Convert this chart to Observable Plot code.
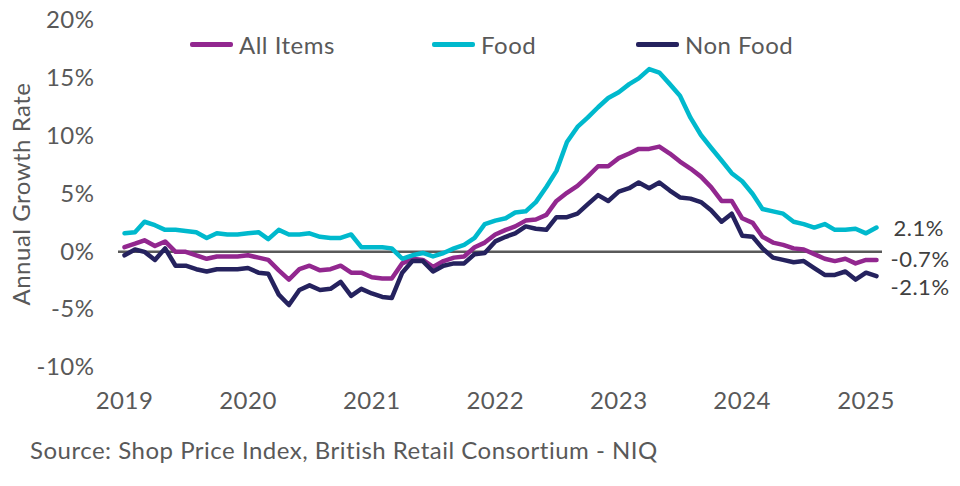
<!DOCTYPE html>
<html>
<head>
<meta charset="utf-8">
<script src="https://cdn.jsdelivr.net/npm/d3@7"></script>
<script src="https://cdn.jsdelivr.net/npm/@observablehq/plot@0.6"></script>
<style>
  body { margin: 0; background: #fff; font-family: Lato, "Open Sans", sans-serif; color: #595959; }
  #wrap { position: relative; width: 960px; height: 486px; overflow: hidden; }
  #chart { position: absolute; left: 0; top: 0; }
  .leg { position: absolute; top: 31px; height: 26px; display: flex; align-items: center; font-size: 24px; letter-spacing: 0.5px; color: #595959; white-space: nowrap; }
  .sw { width: 43px; height: 5px; margin-right: 6px; border-radius: 2px; }
  #caption { position: absolute; left: 30px; top: 435px; font-size: 24px; letter-spacing: 0.5px; color: #595959; white-space: nowrap; }
</style>
</head>
<body>
<div id="wrap">
  <div id="chart"></div>
  <div id="legend"></div>
  <div id="caption">Source: Shop Price Index, British Retail Consortium - NIQ</div>
</div>
<script>
// Monthly observations, Jan 2019 – Feb 2025
const firstMonth = [2019, 0];
const monthCount = 74;

const seriesNames = ["All Items", "Food", "Non Food"];
const seriesColors = ["#92278F", "#00B9CD", "#25225E"];

const allItems = [
  0.4, 0.7, 1.0, 0.5, 0.9, 0.0, 0.0, -0.3, -0.6, -0.4, -0.4, -0.4,
  -0.3, -0.5, -0.7, -1.6, -2.4, -1.5, -1.2, -1.6, -1.5, -1.2, -1.8, -1.8,
  -2.2, -2.3, -2.3, -1.0, -0.6, -0.7, -1.3, -0.8, -0.5, -0.4, 0.4, 0.8,
  1.5, 1.9, 2.2, 2.7, 2.8, 3.2, 4.4, 5.1, 5.7, 6.5, 7.4, 7.4,
  8.1, 8.5, 8.9, 8.9, 9.1, 8.5, 7.8, 7.2, 6.5, 5.6, 4.4, 4.4,
  2.9, 2.5, 1.3, 0.8, 0.6, 0.3, 0.2, -0.2, -0.6, -0.8, -0.6, -1.0,
  -0.7, -0.7
];
const food = [
  1.6, 1.7, 2.6, 2.3, 1.9, 1.9, 1.8, 1.7, 1.2, 1.6, 1.5, 1.5,
  1.6, 1.7, 1.1, 1.9, 1.5, 1.5, 1.6, 1.3, 1.2, 1.2, 1.5, 0.4,
  0.4, 0.4, 0.3, -0.6, -0.3, -0.1, -0.4, -0.1, 0.3, 0.6, 1.2, 2.4,
  2.7, 2.9, 3.4, 3.5, 4.3, 5.6, 7.0, 9.5, 10.8, 11.6, 12.5, 13.3,
  13.8, 14.5, 15.0, 15.8, 15.5, 14.5, 13.5, 11.6, 10.1, 9.0, 7.9, 6.8,
  6.1, 5.0, 3.7, 3.5, 3.3, 2.6, 2.4, 2.1, 2.4, 1.9, 1.9, 2.0,
  1.6, 2.1
];
const nonFood = [
  -0.3, 0.2, 0.0, -0.7, 0.3, -1.2, -1.2, -1.5, -1.7, -1.5, -1.5, -1.5,
  -1.4, -1.8, -1.9, -3.7, -4.6, -3.3, -2.9, -3.3, -3.2, -2.6, -3.8, -3.2,
  -3.6, -3.9, -4.0, -1.8, -0.8, -0.8, -1.7, -1.2, -1.0, -1.0, -0.2, -0.1,
  0.9, 1.3, 1.6, 2.2, 2.0, 1.9, 3.0, 3.0, 3.3, 4.1, 4.9, 4.4,
  5.2, 5.5, 6.0, 5.5, 6.0, 5.3, 4.7, 4.6, 4.3, 3.6, 2.6, 3.3,
  1.4, 1.3, 0.3, -0.5, -0.7, -0.9, -0.8, -1.4, -2.0, -2.0, -1.7, -2.4,
  -1.8, -2.1
];

const yTicks = [-10, -5, 0, 5, 10, 15, 20];
const xTickYears = [2019, 2020, 2021, 2022, 2023, 2024, 2025];

// ---- build table ----
const dates = d3.range(monthCount).map(i => new Date(Date.UTC(firstMonth[0], firstMonth[1] + i, 1)));
const valuesBySeries = [allItems, food, nonFood];
const rows = [];
seriesNames.forEach((name, s) => {
  valuesBySeries[s].forEach((v, i) => rows.push({ series: name, date: dates[i], value: v }));
});
const lastRow = name => rows.filter(r => r.series === name).at(-1);
const fmt = v => v.toFixed(1) + "%";

const endLabel = { textAnchor: "start", fill: "#404040", fontSize: 22 };

const chart = Plot.plot({
  width: 960,
  height: 420,
  marginTop: 20,
  marginBottom: 53,
  marginLeft: 124,
  marginRight: 84,
  x: { type: "utc", domain: [dates[0], dates[dates.length - 1]] },
  y: { domain: [-10, 20] },
  color: { domain: seriesNames, range: seriesColors },
  style: { fontFamily: "Lato, 'Open Sans', sans-serif", fontSize: "24px", letterSpacing: "0.5px", color: "#595959", background: "white", overflow: "visible" },
  marks: [
    Plot.axisY({
      ticks: yTicks, tickSize: 0, tickPadding: 30,
      tickFormat: d => d + "%",
      label: "Annual Growth Rate", labelAnchor: "center", labelOffset: 112, labelArrow: "none"
    }),
    Plot.axisX({
      ticks: xTickYears.map(y => new Date(Date.UTC(y, 0, 1))),
      tickSize: 0, tickPadding: 24,
      tickFormat: d => String(d.getUTCFullYear()),
      label: null
    }),
    Plot.ruleY([0], { stroke: "#595959", strokeWidth: 2.5, insetLeft: -6, insetRight: -6 }),
    Plot.line(rows, {
      x: "date", y: "value", z: "series", stroke: "series",
      strokeWidth: 4.5, strokeLinejoin: "round", strokeLinecap: "round"
    }),
    Plot.text([lastRow("Food")], { ...endLabel, x: "date", y: "value", text: d => fmt(d.value), dx: 17, dy: 1 }),
    Plot.text([lastRow("All Items")], { ...endLabel, x: "date", y: "value", text: d => fmt(d.value), dx: 14, dy: 0 }),
    Plot.text([lastRow("Non Food")], { ...endLabel, x: "date", y: "value", text: d => fmt(d.value), dx: 14, dy: 12 })
  ]
});
document.getElementById("chart").appendChild(chart);

// ---- legend ----
const legendLeft = [190, 432, 636];
const legend = document.getElementById("legend");
seriesNames.forEach((name, i) => {
  const item = document.createElement("div");
  item.className = "leg";
  item.style.left = legendLeft[i] + "px";
  const sw = document.createElement("div");
  sw.className = "sw";
  sw.style.background = seriesColors[i];
  const t = document.createElement("span");
  t.textContent = name;
  item.appendChild(sw);
  item.appendChild(t);
  legend.appendChild(item);
});
</script>
</body>
</html>
